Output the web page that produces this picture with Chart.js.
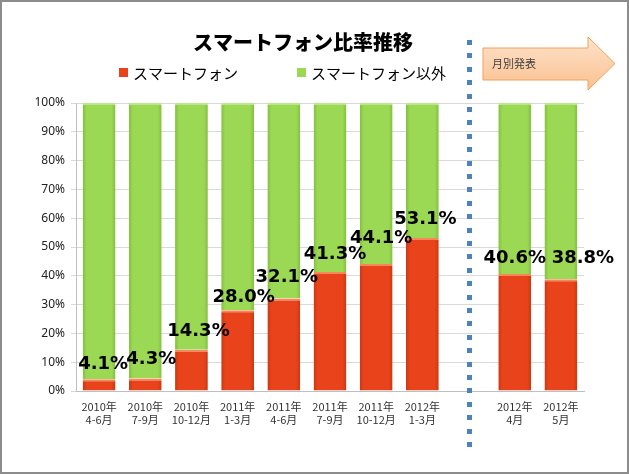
<!DOCTYPE html>
<html>
<head>
<meta charset="utf-8">
<script src="https://cdn.jsdelivr.net/npm/chart.js@4"></script>
<style>
  html, body { margin: 0; padding: 0; background: #fff; }
  canvas { display: block; }
</style>
</head>
<body>
<canvas id="share" width="629" height="474"></canvas>
<script>
// periods (the empty slot is the gap before the monthly figures)
const categories = [
  ["2010年", "4-6月"], ["2010年", "7-9月"], ["2010年", "10-12月"], ["2011年", "1-3月"],
  ["2011年", "4-6月"], ["2011年", "7-9月"], ["2011年", "10-12月"], ["2012年", "1-3月"],
  "", ["2012年", "4月"], ["2012年", "5月"]
];
const smartShare = [4.1, 4.3, 14.3, 28.0, 32.1, 41.3, 44.1, 53.1, null, 40.6, 38.8];
const otherShare = [95.9, 95.7, 85.7, 72.0, 67.9, 58.7, 55.9, 46.9, null, 59.4, 61.2];
const yTicks = [0, 10, 20, 30, 40, 50, 60, 70, 80, 90, 100];

// small hand nudges for the value labels (dx, gap above bar)
const labelDx = [4, 6, 7, 6, 3, 5, 5, 3, 0, 0, 22];
const labelGap = [6, 10, 9, 4, 12, 9, 17, 10, 0, 7, 12];

const JP = '"Noto Sans CJK JP", "Noto Sans", sans-serif';
const BAR_PCT = 0.71;

// soft side shading like the original's bevelled bars
function shaded(base, edge) {
  return ctx => {
    const chart = ctx.chart;
    const xs = chart.scales.x;
    if (!xs || !chart.chartArea) return base;
    const x = xs.getPixelForValue(ctx.dataIndex);
    const w = (xs.width / categories.length) * BAR_PCT;
    if (!isFinite(x)) return base;
    const g = chart.ctx.createLinearGradient(x - w / 2, 0, x + w / 2, 0);
    g.addColorStop(0, edge);
    g.addColorStop(0.12, base);
    g.addColorStop(0.88, base);
    g.addColorStop(1, edge);
    return g;
  };
}

const decor = {
  id: "decor",
  beforeDraw(chart) {
    const ctx = chart.ctx;
    ctx.save();
    ctx.fillStyle = "#fff";
    ctx.fillRect(0, 0, chart.width, chart.height);
    ctx.restore();
  },
  afterDatasetsDraw(chart) {
    const ctx = chart.ctx;
    ctx.save();

    // value labels above the red bars
    const meta = chart.getDatasetMeta(0);
    ctx.font = 'bold 18px "DejaVu Sans", sans-serif';
    ctx.fillStyle = "#000";
    ctx.textAlign = "center";
    ctx.textBaseline = "bottom";
    meta.data.forEach((bar, i) => {
      const v = smartShare[i];
      if (v == null) return;
      ctx.fillText(v.toFixed(1) + "%", bar.x + labelDx[i], bar.y - labelGap[i]);
    });

    // dotted separator in the empty slot
    const sx = Math.round(chart.scales.x.getPixelForValue(8));
    ctx.fillStyle = "#4f81bd";
    for (let y = 40; y < 448; y += 13.4) {
      ctx.fillRect(sx - 2, Math.round(y), 5, 5);
    }

    // arrow "月別発表"
    ctx.beginPath();
    ctx.moveTo(483, 48);
    ctx.lineTo(588, 48);
    ctx.lineTo(588, 37);
    ctx.lineTo(615, 63.5);
    ctx.lineTo(588, 90);
    ctx.lineTo(588, 80);
    ctx.lineTo(483, 80);
    ctx.closePath();
    const g = ctx.createLinearGradient(0, 37, 0, 90);
    g.addColorStop(0, "#fde3cc");
    g.addColorStop(1, "#fbc08f");
    ctx.fillStyle = g;
    ctx.fill();
    ctx.strokeStyle = "#f5a05a";
    ctx.lineWidth = 1;
    ctx.stroke();
    ctx.fillStyle = "#404040";
    ctx.font = "11px " + JP;
    ctx.textAlign = "left";
    ctx.textBaseline = "middle";
    ctx.fillText("月別発表", 492, 64);

    // title
    ctx.fillStyle = "#000";
    ctx.font = "900 20px " + JP;
    ctx.textAlign = "left";
    ctx.textBaseline = "middle";
    ctx.fillText("スマートフォン比率推移", 193, 42);

    // legend
    ctx.font = "15px " + JP;
    const items = [
      { x: 119, color: "#e8431a", label: chart.data.datasets[0].label },
      { x: 297, color: "#9bd853", label: chart.data.datasets[1].label }
    ];
    items.forEach(it => {
      ctx.fillStyle = it.color;
      ctx.fillRect(it.x, 68, 9, 9);
      ctx.fillStyle = "#000";
      ctx.fillText(it.label, it.x + 14, 73);
    });

    // frame
    ctx.strokeStyle = "#8c8c8c";
    ctx.lineWidth = 2;
    ctx.strokeRect(1, 1, chart.width - 2, chart.height - 2);
    ctx.restore();
  }
};

new Chart(document.getElementById("share").getContext("2d"), {
  type: "bar",
  data: {
    labels: categories,
    datasets: [
      {
        label: "スマートフォン",
        data: smartShare,
        backgroundColor: shaded("#e8431a", "#cc3810"),
        borderColor: "#f7875a",
        borderWidth: { top: 2, left: 0, right: 0, bottom: 0 },
        borderSkipped: false,
        categoryPercentage: 1,
        barPercentage: BAR_PCT
      },
      {
        label: "スマートフォン以外",
        data: otherShare,
        backgroundColor: shaded("#9bd853", "#82bf3f"),
        borderColor: "#bde88a",
        borderWidth: { top: 2, left: 0, right: 0, bottom: 0 },
        borderSkipped: false,
        categoryPercentage: 1,
        barPercentage: BAR_PCT
      }
    ]
  },
  options: {
    responsive: false,
    animation: false,
    layout: { padding: { top: 103, right: 45, left: 0, bottom: 0 } },
    scales: {
      x: {
        stacked: true,
        grid: { display: false },
        border: { display: true, color: "#bfbfbf" },
        ticks: {
          color: "#333",
          font: { size: 11, family: JP },
          padding: 1,
          maxRotation: 0,
          autoSkip: false
        },
        afterFit(scale) { scale.height = 83; }
      },
      y: {
        stacked: true,
        min: 0,
        max: 100,
        afterBuildTicks(scale) { scale.ticks = yTicks.map(v => ({ value: v })); },
        grid: { color: "#d9d9d9", tickLength: 5 },
        border: { display: true, color: "#bfbfbf" },
        ticks: {
          color: "#222",
          font: { size: 12, family: '"Noto Sans", sans-serif' },
          padding: 6,
          callback: v => v + "%"
        },
        afterFit(scale) { scale.width = 76; }
      }
    },
    plugins: {
      legend: { display: false },
      title: { display: false },
      tooltip: { enabled: false }
    }
  },
  plugins: [decor]
});
</script>
</body>
</html>
